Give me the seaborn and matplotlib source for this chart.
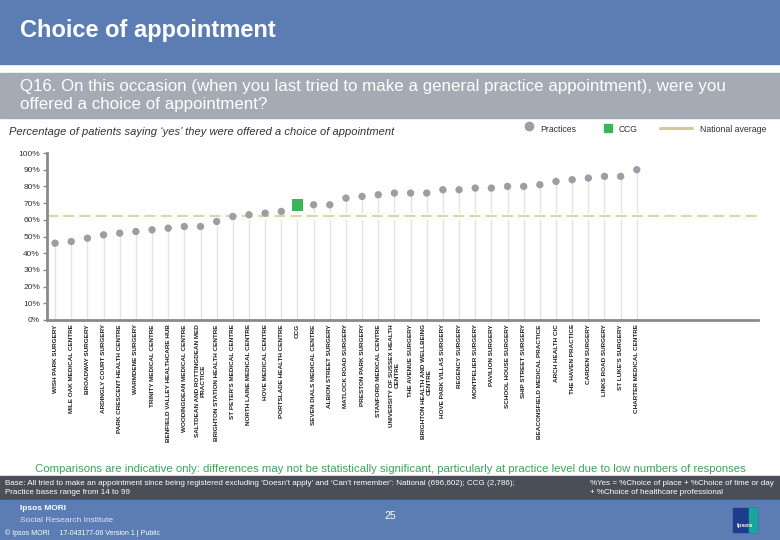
import pandas as pd
import matplotlib.pyplot as plt
import seaborn as sns
from matplotlib.patches import Rectangle
from matplotlib.lines import Line2D

# Dados (% que disseram 'sim')
labels = [
    "WISH PARK SURGERY", "MILE OAK MEDICAL CENTRE", "BROADWAY SURGERY",
    "ARDINGLY COURT SURGERY", "PARK CRESCENT HEALTH CENTRE", "WARMDENE SURGERY",
    "TRINITY MEDICAL CENTRE", "BENFIELD VALLEY HEALTHCARE HUB",
    "WOODINGDEAN MEDICAL CENTRE", "SALTDEAN AND ROTTINGDEAN MED\nPRACTICE",
    "BRIGHTON STATION HEALTH CENTRE", "ST PETER'S MEDICAL CENTRE",
    "NORTH LAINE MEDICAL CENTRE", "HOVE MEDICAL CENTRE", "PORTSLADE HEALTH CENTRE",
    "CCG", "SEVEN DIALS MEDICAL CENTRE", "ALBION STREET SURGERY",
    "MATLOCK ROAD SURGERY", "PRESTON PARK SURGERY", "STANFORD MEDICAL CENTRE",
    "UNIVERSITY OF SUSSEX HEALTH\nCENTRE", "THE AVENUE SURGERY",
    "BRIGHTON HEALTH AND WELLBEING\nCENTRE", "HOVE PARK VILLAS SURGERY",
    "REGENCY SURGERY", "MONTPELIER SURGERY", "PAVILION SURGERY",
    "SCHOOL HOUSE SURGERY", "SHIP STREET SURGERY", "BEACONSFIELD MEDICAL PRACTICE",
    "ARCH HEALTH CIC", "THE HAVEN PRACTICE", "CARDEN SURGERY",
    "LINKS ROAD SURGERY", "ST LUKE'S SURGERY", "CHARTER MEDICAL CENTRE",
]
values = [46, 47, 49, 51, 52, 53, 54, 55, 56, 56, 59, 62, 63, 64, 65,
          69, 69, 69, 73, 74, 75, 76, 76, 76, 78, 78, 79, 79, 80, 80,
          81, 83, 84, 85, 86, 86, 90]
national_avg = 62
n_slots = 44  # o eixo tem espaço para 44 categorias

df = pd.DataFrame({"label": labels, "value": values})
df["pos"] = range(len(df))
df["kind"] = ["CCG" if l == "CCG" else "Practice" for l in df["label"]]

sns.set_theme(style="white")
plt.rcParams["font.family"] = ["Liberation Sans", "DejaVu Sans"]

W, H = 780, 540
fig = plt.figure(figsize=(W / 100, H / 100), dpi=100)


def fx(p):
    return p / W


def fy(p):
    return 1 - p / H


def band(y0, y1, color):
    fig.add_artist(Rectangle((0, fy(y1)), 1, (y1 - y0) / H, transform=fig.transFigure,
                             color=color, zorder=0))


# Faixas de cabeçalho e rodapé
band(0, 64, "#5b7db4")
band(73, 118, "#a4abb5")
band(476, 500, "#4a4e56")
band(500, 540, "#5b7db4")

fig.text(fx(20), fy(31), "Choice of appointment", color="white", fontsize=17,
         fontweight="bold", va="center")
fig.text(fx(20), fy(87), "Q16. On this occasion (when you last tried to make a general practice "
         "appointment), were you", color="white", fontsize=12.2, va="center")
fig.text(fx(20), fy(105), "offered a choice of appointment?", color="white",
         fontsize=12.2, va="center")
fig.text(fx(9), fy(132), "Percentage of patients saying \u2018yes\u2019 they were offered a choice of appointment",
         color="#333333", fontsize=8, style="italic", va="center")

# Legenda
fig.add_artist(Line2D([fx(529)], [fy(126)], marker="o", color="#9a9ea6", markersize=6,
                      transform=fig.transFigure))
fig.text(fx(540), fy(129), "Practices", fontsize=6.2, color="#333333", va="center")
fig.add_artist(Line2D([fx(608)], [fy(128)], marker="s", color="#3cb55a", markersize=6,
                      transform=fig.transFigure))
fig.text(fx(619), fy(129), "CCG", fontsize=6.2, color="#333333", va="center")
fig.add_artist(Line2D([fx(660), fx(692)], [fy(128), fy(128)], color="#d2c99c", lw=2.2,
                      transform=fig.transFigure))
fig.text(fx(700), fy(129), "National average", fontsize=6.3, color="#333333", va="center")

# Gráfico
ax = fig.add_axes([fx(47), fy(320), fx(758) - fx(47), (320 - 153) / H])
ax.vlines(df["pos"], 0, df["value"], color="#e4e4e4", lw=1, zorder=1)
ax.axhline(national_avg, color="#fdfcf4", lw=5, zorder=2)
ax.axhline(national_avg, color="#d8d1a8", lw=1.3, dashes=(6, 3), zorder=2.5)

sns.scatterplot(data=df[df["kind"] == "Practice"], x="pos", y="value", color="#9a9ea6",
                s=28, edgecolor="none", ax=ax, zorder=3, legend=False)
sns.scatterplot(data=df[df["kind"] == "CCG"], x="pos", y="value", color="#3cb55a",
                marker="s", s=72, edgecolor="none", ax=ax, zorder=3, legend=False)

ax.set_xlim(-0.5, n_slots - 0.5)
ax.set_ylim(0, 100)
ax.set_yticks(range(0, 101, 10))
ax.set_yticklabels([f"{v}%" for v in range(0, 101, 10)], fontsize=6, color="#333333")
ax.set_xticks(df["pos"])
ax.set_xticklabels(df["label"], rotation=90, fontsize=4.6, fontweight="bold",
                   color="#222222", va="top", ha="center", multialignment="center")
ax.set_xticks([i - 0.5 for i in range(n_slots + 1)], minor=True)
ax.tick_params(axis="x", which="major", length=0, pad=3)
ax.tick_params(axis="x", which="minor", length=3, width=1.5, color="#8a8a8a", direction="out")
ax.tick_params(axis="y", length=3, width=1, color="#8a8a8a", direction="out", pad=2, left=True)
ax.set_xlabel("")
ax.set_ylabel("")
for side in ["top", "right"]:
    ax.spines[side].set_visible(False)
for side in ["left", "bottom"]:
    ax.spines[side].set_color("#8a8a8a")
    ax.spines[side].set_linewidth(2)
ax.set_facecolor("none")

# Notas de rodapé
fig.text(0.5, fy(469), "Comparisons are indicative only: differences may not be statistically "
         "significant, particularly at practice level due to low numbers of responses",
         color="#3da35a", fontsize=8.2, ha="center", va="center")
fig.text(fx(5), fy(488), "Base: All tried to make an appointment since being registered excluding "
         "\u2018Doesn\u2019t apply\u2019 and \u2018Can\u2019t remember\u2019: National (696,602); CCG (2,786);\n"
         "Practice bases range from 14 to 99", color="white", fontsize=5.8, va="center",
         linespacing=1.45)
fig.text(fx(590), fy(488), "%Yes = %Choice of place + %Choice of time or day\n"
         "+ %Choice of healthcare professional", color="white", fontsize=5.8, va="center",
         linespacing=1.45)
fig.text(fx(20), fy(509), "Ipsos MORI", color="white", fontsize=6, fontweight="bold", va="center")
fig.text(fx(20), fy(521), "Social Research Institute", color="#dfe6f2", fontsize=6, va="center")
fig.text(fx(5), fy(533), "\u00a9 Ipsos MORI     17-043177-06 Version 1 | Public", color="white",
         fontsize=5, va="center")
fig.text(0.5, fy(516), "25", color="white", fontsize=7.5, ha="center", va="center")
fig.add_artist(Rectangle((fx(733), fy(532)), 24 / W, 24 / H, transform=fig.transFigure,
                         color="#1e3c8c", zorder=1))
fig.add_artist(Rectangle((fx(749), fy(532)), 8 / W, 24 / H, transform=fig.transFigure,
                         color="#19a59b", zorder=1))
fig.text(fx(745), fy(525), "Ipsos", color="white", fontsize=4.5, fontweight="bold",
         ha="center", va="center", zorder=2)

fig.savefig("out.png", dpi=100)
plt.close()
